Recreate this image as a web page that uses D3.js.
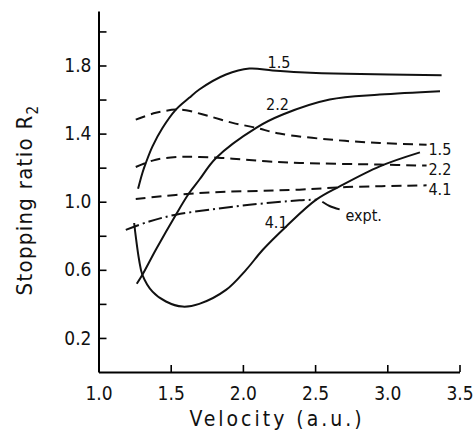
<!DOCTYPE html>
<html>
<head>
<meta charset="utf-8">
<script src="https://cdn.jsdelivr.net/npm/d3@7"></script>
<style>
  body { margin: 0; background: #fff; }
  text { font-family: "DejaVu Sans Condensed", "DejaVu Sans", sans-serif; fill: #111; }
</style>
</head>
<body>
<svg width="475" height="432"></svg>
<script>
// theory curves (solid) for r_s = 1.5, 2.2, 4.1
var solid15 = [[1.274,1.076],[1.304,1.169],[1.328,1.228],[1.374,1.325],[1.443,1.433],[1.536,1.541],
  [1.628,1.610],[1.698,1.659],[1.883,1.747],[2.045,1.782],[2.205,1.771],[2.392,1.761],[2.717,1.751],[3.376,1.743]];
var solid22 = [[1.265,0.518],[1.304,0.571],[1.397,0.718],[1.536,0.924],[1.628,1.051],[1.698,1.129],
  [1.814,1.257],[2.092,1.434],[2.276,1.512],[2.601,1.600],[2.948,1.629],[3.365,1.649]];
var solid41 = [[1.247,0.875],[1.258,0.796],[1.281,0.659],[1.304,0.571],[1.374,0.472],[1.467,0.414],
  [1.582,0.384],[1.698,0.400],[1.883,0.482],[2.022,0.600],[2.138,0.718],[2.300,0.855],[2.508,1.012],
  [2.670,1.090],[2.948,1.208],[3.226,1.290]];
// dashed curves
var dash15 = [[1.258,1.482],[1.397,1.522],[1.536,1.541],[1.606,1.537],[1.767,1.502],[1.929,1.463],
  [2.092,1.434],[2.253,1.400],[2.601,1.365],[2.948,1.345],[3.272,1.335]];
var dash22 = [[1.258,1.204],[1.397,1.247],[1.559,1.263],[1.698,1.263],[1.929,1.253],[2.161,1.237],
  [2.392,1.228],[2.948,1.218],[3.272,1.212]];
var dash41 = [[1.258,1.016],[1.698,1.051],[2.392,1.071],[2.717,1.086],[3.272,1.096]];
// experiment (dash-dot)
var expt = [[1.189,0.835],[1.351,0.884],[1.536,0.924],[1.767,0.953],[2.045,0.982],[2.392,1.008],[2.51,1.012]];

var xTicks = [1.0, 1.5, 2.0, 2.5, 3.0, 3.5];
var yTicks = [0.2, 0.4, 0.6, 0.8, 1.0, 1.2, 1.4, 1.6, 1.8, 2.0];
var yLabelled = [0.2, 0.6, 1.0, 1.4, 1.8];

var curveLabels = [
  {t: "1.5", x: 2.25, y: 1.82, a: "middle"},
  {t: "2.2", x: 2.24, y: 1.57, a: "middle"},
  {t: "4.1", x: 2.23, y: 0.88, a: "middle"},
  {t: "1.5", x: 3.285, y: 1.31, a: "start"},
  {t: "2.2", x: 3.285, y: 1.19, a: "start"},
  {t: "4.1", x: 3.285, y: 1.07, a: "start"},
  {t: "expt.", x: 2.71, y: 0.92, a: "start"}
];
var leader = [[2.55, 1.00], [2.6, 0.975], [2.67, 0.955]];

var svg = d3.select("svg");
var x = d3.scaleLinear().domain([1.0, 3.5]).range([98.5, 459.5]);
var y = d3.scaleLinear().domain([0, 2.12]).range([372, 11]);

var line = d3.line()
  .x(function(d) { return x(d[0]); })
  .y(function(d) { return y(d[1]); })
  .curve(d3.curveCatmullRom.alpha(0.5));

// axes
var gx = svg.append("g")
  .attr("transform", "translate(0," + y(0) + ")")
  .call(d3.axisBottom(x).tickValues(xTicks).tickSize(-7).tickSizeOuter(0).tickPadding(15)
    .tickFormat(d3.format(".1f")));
gx.select(".domain").attr("stroke-width", 2);
gx.selectAll(".tick line").attr("stroke-width", 1.6);
gx.selectAll(".tick text").style("font-size", "19px");
gx.selectAll(".tick").filter(function(d) { return d == 1.0; }).select("line").remove();

var gy = svg.append("g")
  .attr("transform", "translate(" + x(1.0) + ",0)")
  .call(d3.axisLeft(y).tickValues(yTicks).tickSize(-8).tickSizeOuter(0).tickPadding(7)
    .tickFormat(function(d) { return yLabelled.indexOf(d) >= 0 ? d3.format(".1f")(d) : ""; }));
gy.select(".domain").attr("stroke-width", 2);
gy.selectAll(".tick line").attr("stroke-width", 1.6);
gy.selectAll(".tick text").style("font-size", "19px");

// curves
function draw(data, dash) {
  svg.append("path")
    .datum(data)
    .attr("fill", "none")
    .attr("stroke", "#111")
    .attr("stroke-width", 2)
    .attr("stroke-dasharray", dash)
    .attr("d", line);
}
draw(solid15, null);
draw(solid22, null);
draw(solid41, null);
draw(dash15, "10,6");
draw(dash22, "10,6");
draw(dash41, "10,6");
draw(expt, "14,4,2,4");
draw(leader, null);

svg.selectAll("text.lab")
  .data(curveLabels)
  .enter().append("text")
  .attr("class", "lab")
  .attr("x", function(d) { return x(d.x); })
  .attr("y", function(d) { return y(d.y); })
  .attr("text-anchor", function(d) { return d.a; })
  .attr("dy", "0.35em")
  .style("font-size", "16px")
  .text(function(d) { return d.t; });

// axis titles
svg.append("text")
  .attr("x", 277).attr("y", 426)
  .attr("text-anchor", "middle")
  .style("font-size", "21px")
  .style("letter-spacing", "3px")
  .text("Velocity (a.u.)");

var yt = svg.append("text")
  .attr("transform", "translate(32,200) rotate(-90)")
  .attr("text-anchor", "middle")
  .style("font-size", "22px")
  .style("letter-spacing", "1.3px");
yt.append("tspan").text("Stopping ratio R");
yt.append("tspan").attr("dy", 6).style("font-size", "15px").text("2");
</script>
</body>
</html>
